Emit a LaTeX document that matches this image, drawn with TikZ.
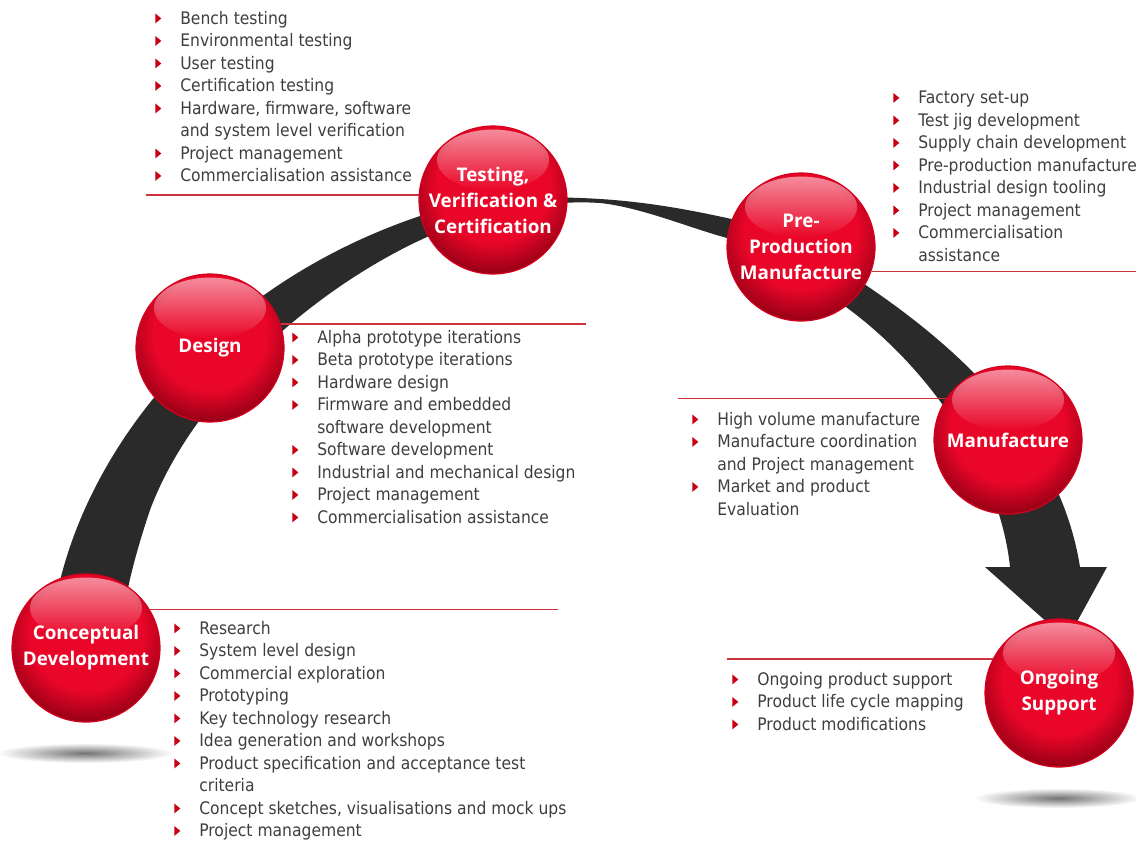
\documentclass[tikz,border=0pt]{standalone}
\usepackage{fontspec}
\usetikzlibrary{fadings,calc}

\newfontfamily\listfont{DejaVu Sans}[FakeStretch=0.9]
\newfontfamily\ballfont{Open Sans}

\definecolor{bulletred}{RGB}{200,0,20}
\definecolor{ballred}{RGB}{234,6,40}
\definecolor{balldark}{RGB}{150,0,22}
\newcommand{\bul}{\tikz[baseline=0pt]\fill[bulletred] (0pt,0.7pt) -- (4.3pt,4.25pt) -- (0pt,7.8pt) -- cycle;}
\newcommand{\itm}[1]{\makebox[17.8pt][l]{\bul}#1}
\newcommand{\cont}[1]{\hspace*{17.8pt}#1}

\tikzfading[name=glossfade, top color=transparent!25, bottom color=transparent!100]
\pgfdeclareradialshading{ballshade}{\pgfpoint{0bp}{0bp}}{%
  color(0bp)=(ballred); color(16bp)=(ballred); color(25bp)=(balldark); color(50bp)=(balldark)}

\begin{document}
\begin{tikzpicture}[x=0.025cm, y=-0.025cm]

% === Colors ===
\definecolor{bandgray}{RGB}{42,42,42}
\definecolor{ballrim}{RGB}{215,0,30}
\definecolor{linered}{RGB}{205,50,60}
\definecolor{listgray}{RGB}{62,62,62}

\tikzset{
  ball/.style={circle, minimum size=3.7cm, inner sep=0pt, draw=ballrim, line width=0.8pt,
    text=white, align=center,
    font={\ballfont\bfseries\fontsize{13.4}{18.5}\selectfont},
    path picture={
      \shade[shading=ballshade]
        ($(path picture bounding box.center)+(0,0.35cm)$) circle (2.2cm);
      \fill[white, path fading=glossfade, fill opacity=0.72]
        ($(path picture bounding box.center)+(0,1.0cm)$) ellipse (1.4cm and 0.76cm);
    }},
  listtext/.style={anchor=north west, inner sep=0pt, align=left, text=listgray,
    font={\listfont\fontsize{12.3}{16}\selectfont}},
  sepline/.style={draw=linered, line width=1.1pt},
  band/.style={fill=bandgray}
}

\useasboundingbox (0,0) rectangle (1136,843);

% === Shadows under the end balls ===
\shade[inner color=black!55, outer color=white] (85,753) ellipse (2.2cm and 0.25cm);
\shade[inner color=black!55, outer color=white] (1058,798) ellipse (2.1cm and 0.25cm);

% === Process band with arrow head ===
\fill[band] (52,625)
  .. controls (70,470) and (200,290) .. (420,216)
  .. controls (480,198) and (530,196) .. (580,198)
  .. controls (640,200) and (690,210) .. (727,218)
  .. controls (790,232) and (832,262) .. (873,290)
  .. controls (960,350) and (1060,440) .. (1080,567)
  -- (1107,567) -- (1067,640) -- (985,567) -- (1010,567)
  .. controls (1000,470) and (930,370) .. (850,310)
  .. controls (800,272) and (760,246) .. (727,238)
  .. controls (690,228) and (640,207) .. (600,203)
  .. controls (540,199) and (470,215) .. (427,237)
  .. controls (320,285) and (195,390) .. (150,510)
  .. controls (135,555) and (126,590) .. (122,625)
  -- cycle;

% === Stage balls ===
\node[ball] (concept) at (86,648) {Conceptual\\Development};
\node[ball] (design) at (210,348) {Design};
\node[ball] (testing) at (493,200) {Testing,\\Verification \&\\Certification};
\node[ball] (preprod) at (801,247) {Pre-\\Production\\Manufacture};
\node[ball] (manuf) at (1008,440) {Manufacture};
\node[ball] (support) at (1059,693) {Ongoing\\Support};

% === Separator lines ===
\draw[sepline] (testing.176) -- ++(-273,0);
\draw[sepline] (design.19) -- ++(305,0);
\draw[sepline] (concept.31) -- ++(408,0);
\draw[sepline] (preprod.-19) -- ++(265,0);
\draw[sepline] (manuf.146) -- ++(-268,0);
\draw[sepline] (support.153) -- ++(-266,0);

% === Activity lists ===
\node[listtext] (testlist) at (155,11) {%
  \itm{Bench testing}\\
  \itm{Environmental testing}\\
  \itm{User testing}\\
  \itm{Certification testing}\\
  \itm{Hardware, firmware, software}\\
  \cont{and system level verification}\\
  \itm{Project management}\\
  \itm{Commercialisation assistance}};

\node[listtext] (designlist) at (292,330) {%
  \itm{Alpha prototype iterations}\\
  \itm{Beta prototype iterations}\\
  \itm{Hardware design}\\
  \itm{Firmware and embedded}\\
  \cont{software development}\\
  \itm{Software development}\\
  \itm{Industrial and mechanical design}\\
  \itm{Project management}\\
  \itm{Commercialisation assistance}};

\node[listtext] (conceptlist) at (174,621) {%
  \itm{Research}\\
  \itm{System level design}\\
  \itm{Commercial exploration}\\
  \itm{Prototyping}\\
  \itm{Key technology research}\\
  \itm{Idea generation and workshops}\\
  \itm{Product specification and acceptance test}\\
  \cont{criteria}\\
  \itm{Concept sketches, visualisations and mock ups}\\
  \itm{Project management}};

\node[listtext] (prelist) at (893,91) {%
  \itm{Factory set-up}\\
  \itm{Test jig development}\\
  \itm{Supply chain development}\\
  \itm{Pre-production manufacture}\\
  \itm{Industrial design tooling}\\
  \itm{Project management}\\
  \itm{Commercialisation}\\
  \cont{assistance}};

\node[listtext] (manlist) at (692,412) {%
  \itm{High volume manufacture}\\
  \itm{Manufacture coordination}\\
  \cont{and Project management}\\
  \itm{Market and product}\\
  \cont{Evaluation}};

\node[listtext] (supportlist) at (732,672) {%
  \itm{Ongoing product support}\\
  \itm{Product life cycle mapping}\\
  \itm{Product modifications}};

\end{tikzpicture}
\end{document}
